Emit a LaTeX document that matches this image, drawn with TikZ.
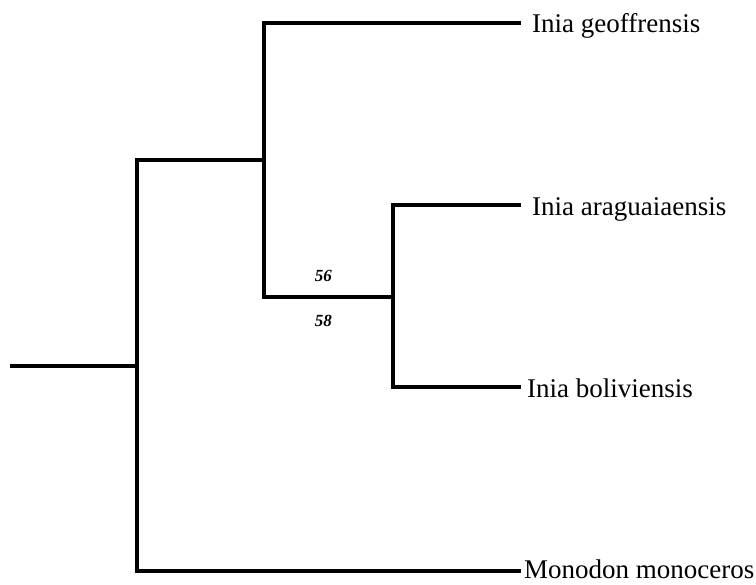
\documentclass[tikz,border=0pt]{standalone}
\usepackage{fontspec}
\setmainfont{Liberation Serif}
\begin{document}
\begin{tikzpicture}[x=1pt,y=-1pt,
  branch/.style={line width=3.8pt, line join=miter},
  leaf/.style={anchor=base west, inner sep=0pt, font=\fontsize{27}{30}\selectfont},
  support/.style={inner sep=0pt, font=\fontsize{17}{19}\selectfont\bfseries\itshape}]
\useasboundingbox (0,0) rectangle (756,585);
% internal nodes
\coordinate (r)  at (10,366);
\coordinate (n1) at (137,366);
\coordinate (n2) at (264,160);
\coordinate (n3) at (393,297);
% branch tips
\coordinate (tGeo) at (521,23);
\coordinate (tAra) at (521,205);
\coordinate (tBol) at (521,387);
\coordinate (tMon) at (521,571);
% leaf labels
\node[leaf] (geo) at (532,33)  {Inia geoffrensis};
\node[leaf] (ara) at (532,216) {Inia araguaiaensis};
\node[leaf] (bol) at (527,398) {Inia boliviensis};
\node[leaf] (mon) at (524,579) {Monodon monoceros};
% branches
\draw[branch] (r) -- (n1);
\draw[branch] (n2) -| (n1) |- (tMon);
\draw[branch] (tGeo) -| (n2) |- (n3);
\draw[branch] (tAra) -| (n3) |- (tBol);
% support values
\path (n2 |- n3) -- (n3)
  node[support, pos=0.46, yshift=21pt] (s56) {56}
  node[support, pos=0.46, yshift=-24pt] (s58) {58};
\end{tikzpicture}
\end{document}
